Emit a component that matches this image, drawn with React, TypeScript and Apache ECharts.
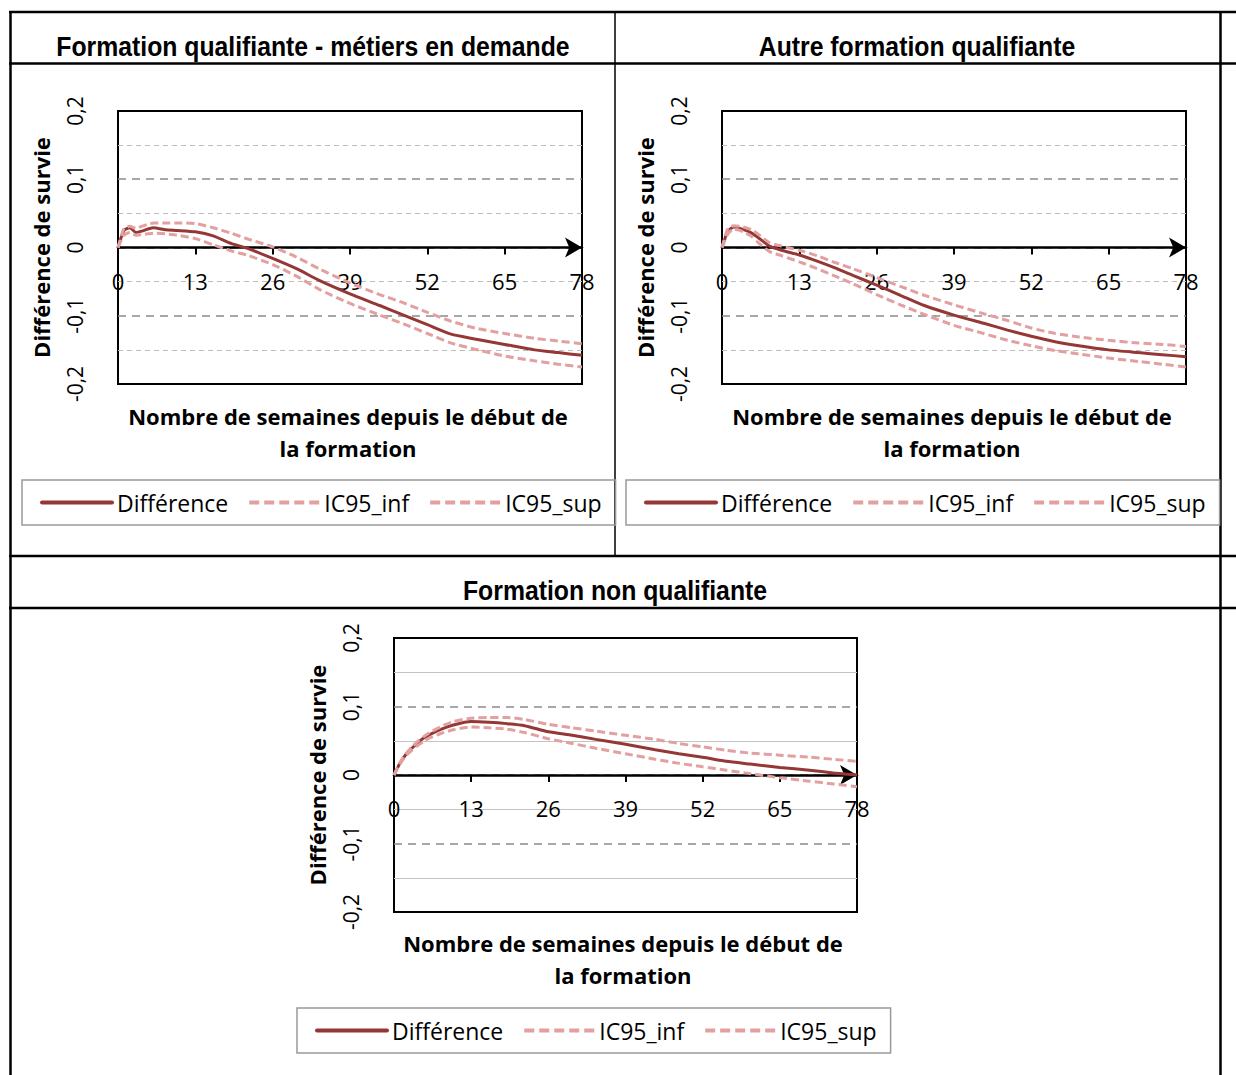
import React, { useEffect, useRef } from "react";
import * as echarts from "echarts";

const weeks = [0, 1, 2, 3, 4, 5, 6, 8, 10, 13, 16, 19, 22, 26, 30, 34, 39, 44, 48, 52, 56, 60, 65, 70, 74, 78];

const c1Diff = [0, 0.025, 0.029, 0.022, 0.024, 0.027, 0.029, 0.026, 0.025, 0.023, 0.017, 0.006, -0.002, -0.016, -0.031, -0.049, -0.068, -0.085, -0.099, -0.113, -0.127, -0.134, -0.142, -0.15, -0.154, -0.158];
const c1Inf = [0, 0.018, 0.022, 0.018, 0.019, 0.02, 0.021, 0.02, 0.018, 0.013, 0.004, -0.005, -0.012, -0.025, -0.042, -0.062, -0.082, -0.099, -0.112, -0.126, -0.14, -0.149, -0.159, -0.166, -0.171, -0.175];
const c1Sup = [0, 0.028, 0.031, 0.028, 0.031, 0.034, 0.036, 0.036, 0.036, 0.035, 0.029, 0.021, 0.012, 0.001, -0.014, -0.032, -0.052, -0.069, -0.081, -0.095, -0.108, -0.118, -0.126, -0.133, -0.137, -0.141];

const c2Diff = [0, 0.024, 0.03, 0.028, 0.025, 0.021, 0.015, 0.002, -0.004, -0.011, -0.02, -0.03, -0.041, -0.055, -0.07, -0.085, -0.099, -0.111, -0.121, -0.13, -0.138, -0.144, -0.15, -0.154, -0.157, -0.16];
const c2Inf = [0, 0.02, 0.027, 0.025, 0.021, 0.016, 0.008, -0.006, -0.012, -0.021, -0.031, -0.042, -0.053, -0.069, -0.084, -0.098, -0.114, -0.126, -0.136, -0.144, -0.151, -0.156, -0.162, -0.167, -0.171, -0.175];
const c2Sup = [0, 0.028, 0.032, 0.031, 0.029, 0.026, 0.02, 0.007, 0.002, -0.004, -0.012, -0.022, -0.031, -0.044, -0.057, -0.07, -0.084, -0.097, -0.107, -0.118, -0.126, -0.131, -0.136, -0.14, -0.142, -0.145];

const c3Diff = [0, 0.017, 0.03, 0.039, 0.047, 0.054, 0.059, 0.067, 0.073, 0.078, 0.077, 0.075, 0.072, 0.063, 0.058, 0.052, 0.045, 0.037, 0.031, 0.026, 0.02, 0.016, 0.011, 0.007, 0.003, 0];
const c3Inf = [0, 0.016, 0.028, 0.036, 0.043, 0.049, 0.054, 0.061, 0.066, 0.07, 0.069, 0.067, 0.062, 0.053, 0.046, 0.039, 0.031, 0.023, 0.017, 0.012, 0.007, 0.002, -0.004, -0.009, -0.013, -0.017];
const c3Sup = [0, 0.018, 0.031, 0.041, 0.049, 0.056, 0.062, 0.071, 0.078, 0.083, 0.084, 0.084, 0.081, 0.074, 0.069, 0.064, 0.058, 0.052, 0.046, 0.041, 0.036, 0.032, 0.029, 0.026, 0.023, 0.02];

const seriesNames = ["Différence", "IC95_inf", "IC95_sup"];
const panelTitles = ["Formation qualifiante - métiers en demande", "Autre formation qualifiante", "Formation non qualifiante"];
const xAxisTitle = "Nombre de semaines depuis le début de\nla formation";
const yAxisTitle = "Différence de survie";

const DIFF_COLOR = "#953735";
const IC_COLOR = "#E2A0A0";
const FONT = "'Open Sans', 'Liberation Sans', sans-serif";
const TITLE_FONT = "'Liberation Sans', 'DejaVu Sans', sans-serif";

const panels = [
  { diff: c1Diff, inf: c1Inf, sup: c1Sup, grid: { left: 118, top: 111, width: 464, height: 273 }, minorSolid: false, legend: { left: 22, top: 480 }, xTitle: { x: 348, y: 432 } },
  { diff: c2Diff, inf: c2Inf, sup: c2Sup, grid: { left: 722, top: 111, width: 464, height: 273 }, minorSolid: false, legend: { left: 626, top: 480 }, xTitle: { x: 952, y: 432 } },
  { diff: c3Diff, inf: c3Inf, sup: c3Sup, grid: { left: 394, top: 638, width: 463, height: 274 }, minorSolid: true, legend: { left: 297, top: 1008 }, xTitle: { x: 623, y: 959 } },
];

function fmtY(v: number) {
  const r = Math.round(v * 10) / 10;
  return String(r).replace(".", ",");
}

export default function App() {
  const ref = useRef<HTMLDivElement>(null);
  useEffect(() => {
    if (!ref.current) return;
    const chart = echarts.init(ref.current, undefined, { renderer: "svg" });

    const grids: any[] = [];
    const xAxes: any[] = [];
    const yAxes: any[] = [];
    const series: any[] = [];
    const legends: any[] = [];
    const graphics: any[] = [];

    panels.forEach((p, i) => {
      grids.push({ ...p.grid, show: true, borderColor: "#000", borderWidth: 2, backgroundColor: "transparent", containLabel: false });
      xAxes.push({
        type: "value",
        gridIndex: i,
        position: "bottom",
        offset: -p.grid.height / 2,
        min: 0,
        max: 78,
        interval: 13,
        axisLine: { onZero: false, lineStyle: { color: "#000", width: 2.5 }, symbol: ["none", "arrow"], symbolSize: [15, 17] },
        axisTick: { show: true, inside: false, length: 7, lineStyle: { color: "#000", width: 2 } },
        axisLabel: { color: "#000", fontFamily: FONT, fontSize: 22, margin: 22, showMinLabel: true, showMaxLabel: true },
        splitLine: { show: false },
      });
      yAxes.push({
        type: "value",
        gridIndex: i,
        min: -0.2,
        max: 0.2,
        interval: 0.1,
        name: yAxisTitle,
        nameLocation: "middle",
        nameGap: 66,
        nameTextStyle: { color: "#000", fontFamily: FONT, fontSize: 22, fontWeight: "bold" },
        axisLine: { show: false },
        axisTick: { show: false },
        axisLabel: { color: "#000", fontFamily: FONT, fontSize: 21, rotate: 90, margin: 33, formatter: fmtY },
        splitLine: { show: true, showMinLine: false, showMaxLine: false, lineStyle: { color: "#8a8a8a", width: 1.5, type: [8, 6] } },
        minorTick: { show: false, splitNumber: 2 },
        minorSplitLine: { show: true, lineStyle: p.minorSolid ? { color: "#c4c4c4", width: 1.2, type: "solid" } : { color: "#bdbdbd", width: 1.2, type: [5, 4] } },
      });
      const mk = (vals: number[]) => weeks.map((w, k) => [w, vals[k]]);
      series.push({ name: seriesNames[0], type: "line", xAxisIndex: i, yAxisIndex: i, data: mk(p.diff), symbol: "none", smooth: 0.2, lineStyle: { color: DIFF_COLOR, width: 3 }, itemStyle: { color: DIFF_COLOR } });
      series.push({ name: seriesNames[1], type: "line", xAxisIndex: i, yAxisIndex: i, data: mk(p.inf), symbol: "none", smooth: 0.2, lineStyle: { color: IC_COLOR, width: 3, type: [8, 4] }, itemStyle: { color: IC_COLOR } });
      series.push({ name: seriesNames[2], type: "line", xAxisIndex: i, yAxisIndex: i, data: mk(p.sup), symbol: "none", smooth: 0.2, lineStyle: { color: IC_COLOR, width: 3, type: [8, 4] }, itemStyle: { color: IC_COLOR } });
      legends.push({
        data: [
          { name: seriesNames[0], lineStyle: { width: 4, cap: "round", type: "solid" } },
          { name: seriesNames[1], lineStyle: { width: 4, cap: "butt", type: [10, 5] } },
          { name: seriesNames[2], lineStyle: { width: 4, cap: "butt", type: [10, 5] } },
        ],
        left: p.legend.left,
        top: p.legend.top,
        orient: "horizontal",
        itemWidth: 70,
        itemHeight: 14,
        itemGap: 19,
        padding: [11, 14, 11, 18],
        borderColor: "#999",
        borderWidth: 1.5,
        selectedMode: false,
        itemStyle: { opacity: 0 },
        lineStyle: { width: 4 },
        textStyle: { color: "#000", fontFamily: FONT, fontSize: 23 },
      });
      graphics.push({
        type: "text",
        x: p.xTitle.x,
        y: p.xTitle.y,
        style: { text: xAxisTitle, fill: "#000", font: `bold 22px ${FONT}`, align: "center", verticalAlign: "middle", lineHeight: 32 },
      });
    });

    const titlePos = [
      { x: 313, y: 46 },
      { x: 917, y: 46 },
      { x: 615, y: 590 },
    ];
    titlePos.forEach((t, i) => {
      graphics.push({
        type: "text",
        x: t.x,
        y: t.y,
        scaleX: 0.885,
        style: { text: panelTitles[i], fill: "#000", font: `bold 28px ${TITLE_FONT}`, align: "center", verticalAlign: "middle" },
      });
    });

    const lineStyle = { stroke: "#000", lineWidth: 2.5 };
    const hLines = [12, 63.5, 556, 608];
    hLines.forEach((y) => graphics.push({ type: "line", shape: { x1: 9, y1: y, x2: 1236, y2: y }, style: lineStyle }));
    graphics.push({ type: "line", shape: { x1: 10.5, y1: 11, x2: 10.5, y2: 1075 }, style: lineStyle });
    graphics.push({ type: "line", shape: { x1: 1220.5, y1: 11, x2: 1220.5, y2: 1075 }, style: lineStyle });
    graphics.push({ type: "line", shape: { x1: 615, y1: 12, x2: 615, y2: 556 }, style: { stroke: "#000", lineWidth: 1.5 } });

    chart.setOption({
      animation: false,
      backgroundColor: "#fff",
      grid: grids,
      xAxis: xAxes,
      yAxis: yAxes,
      series,
      legend: legends,
      graphic: graphics,
    });
    return () => chart.dispose();
  }, []);
  return <div ref={ref} style={{ position: "absolute", left: 0, top: 0, width: 1236, height: 1075 }} />;
}
